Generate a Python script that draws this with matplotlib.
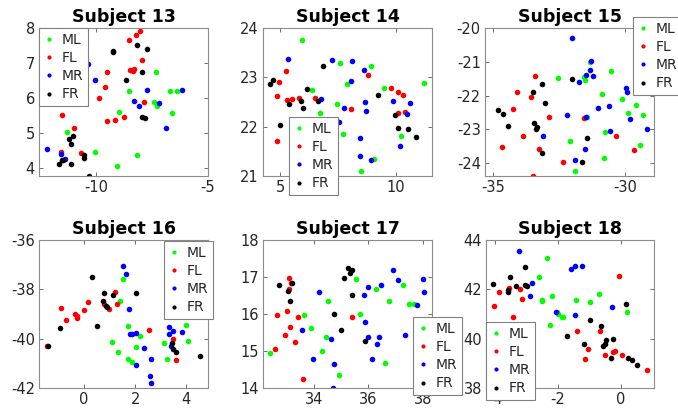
import matplotlib
matplotlib.use('Agg')
import matplotlib.pyplot as plt

plt.rcParams['axes.unicode_minus'] = False

# point clouds per subject and class, (x, y) pairs
s13_ml = [(-7.32, 6.75), (-8.51, 6.20), (-6.70, 6.20), (-6.40, 6.20), (-7.40, 5.88), (-7.29, 5.76),
          (-6.62, 5.56), (-8.96, 5.59), (-11.28, 5.04), (-10.03, 4.45), (-8.15, 4.37), (-9.06, 4.05)]
s13_fl = [(-8.04, 7.90), (-8.21, 7.81), (-8.51, 7.65), (-7.96, 7.09), (-8.48, 6.80), (-8.36, 6.77),
          (-8.30, 6.84), (-9.52, 6.73), (-9.58, 6.32), (-9.88, 6.00), (-7.84, 5.88), (-11.52, 5.52),
          (-8.74, 5.45), (-9.15, 5.38), (-9.52, 5.33), (-10.98, 5.13), (-11.55, 4.46), (-10.67, 4.43)]
s13_mr = [(-10.34, 6.96), (-10.04, 6.50), (-7.72, 6.23), (-6.16, 6.23), (-8.30, 5.91), (-8.08, 5.78),
          (-7.17, 5.86), (-6.89, 5.15), (-12.17, 4.53), (-11.55, 4.40), (-11.40, 4.27)]
s13_fr = [(-8.17, 7.52), (-7.72, 7.41), (-9.23, 7.33), (-9.23, 7.30), (-7.95, 6.75), (-8.66, 6.52),
          (-7.93, 5.46), (-7.83, 5.43), (-11.04, 4.92), (-11.21, 4.82), (-11.12, 4.69), (-10.52, 4.37),
          (-10.54, 4.29), (-11.52, 4.24), (-11.46, 4.22), (-11.65, 4.12), (-11.13, 4.12), (-10.33, 3.76)]

s14_ml = [(5.94, 23.75), (7.56, 23.30), (8.93, 23.23), (7.88, 22.87), (6.37, 22.75), (9.48, 22.78),
          (11.21, 22.88), (7.46, 22.46), (6.71, 22.27), (7.69, 21.85), (10.23, 21.82), (9.06, 21.35),
          (8.50, 21.10)]
s14_fl = [(5.23, 23.12), (4.93, 22.90), (8.78, 23.05), (4.84, 22.62), (5.30, 22.54), (5.50, 22.56),
          (5.79, 22.59), (6.48, 22.58), (8.03, 22.35), (9.80, 22.78), (10.09, 22.71), (10.30, 22.65),
          (10.06, 22.28), (10.37, 22.29), (4.84, 21.70)]
s14_mr = [(5.32, 23.37), (7.23, 23.36), (8.10, 23.34), (8.62, 23.14), (8.07, 22.92), (6.77, 22.56),
          (8.67, 22.51), (9.86, 22.52), (10.59, 22.48), (7.77, 22.38), (8.69, 22.31), (10.48, 22.26),
          (7.54, 22.09), (8.44, 21.77), (10.16, 21.60), (8.46, 21.41), (8.90, 21.32)]
s14_fr = [(4.68, 22.95), (4.55, 22.86), (6.83, 23.22), (6.15, 22.76), (5.91, 22.53), (6.63, 22.53),
          (5.37, 22.46), (5.98, 22.38), (9.21, 22.64), (9.96, 22.23), (4.97, 22.04), (10.06, 21.97),
          (10.53, 21.96), (10.85, 21.79)]

s15_ml = [(-32.56, -21.49), (-31.56, -21.45), (-31.52, -21.53), (-31.33, -21.01), (-30.53, -21.27),
          (-30.86, -21.96), (-30.11, -22.09), (-29.87, -22.53), (-29.57, -22.28), (-29.30, -22.56),
          (-31.43, -22.62), (-30.77, -23.09), (-32.11, -23.34), (-29.42, -23.47), (-30.80, -23.84),
          (-31.89, -24.24)]
s15_fl = [(-33.41, -21.42), (-34.09, -21.90), (-33.57, -22.03), (-34.27, -22.39), (-32.90, -22.62),
          (-31.56, -22.67), (-33.86, -23.21), (-30.33, -23.21), (-34.66, -23.51), (-33.27, -23.58),
          (-29.65, -23.61), (-32.34, -23.96), (-33.51, -24.38)]
s15_mr = [(-32.01, -20.30), (-31.28, -20.99), (-31.34, -21.25), (-31.23, -21.41), (-31.49, -21.39),
          (-31.75, -21.61), (-29.97, -21.78), (-29.94, -21.90), (-31.04, -22.36), (-30.61, -22.32),
          (-29.82, -22.69), (-32.20, -22.58), (-31.49, -22.62), (-29.18, -22.98), (-33.10, -23.20),
          (-30.58, -23.06), (-31.51, -23.58), (-31.89, -23.91)]
s15_fr = [(-34.84, -22.43), (-34.62, -22.54), (-34.46, -22.91), (-33.51, -21.88), (-33.14, -21.65),
          (-33.05, -22.22), (-32.00, -21.50), (-33.47, -22.82), (-33.38, -22.99), (-33.33, -22.94),
          (-33.14, -23.71), (-31.44, -23.27), (-31.63, -23.98)]

s16_ml = [(1.51, -37.60), (1.39, -38.47), (1.71, -39.50), (1.09, -40.14), (2.19, -39.89), (2.05, -40.35),
          (1.32, -40.53), (1.71, -40.82), (1.89, -40.95), (3.11, -40.16), (3.26, -40.82), (3.99, -39.46),
          (4.08, -40.08)]
s16_fl = [(-0.91, -38.74), (-0.72, -39.25), (-0.36, -38.99), (-0.27, -39.09), (-0.26, -39.17),
          (-0.01, -38.83), (0.16, -38.53), (0.77, -38.59), (0.96, -38.78), (1.20, -38.12), (1.29, -38.60),
          (2.53, -39.65), (3.48, -40.02), (3.61, -40.88), (-1.43, -40.31)]
s16_mr = [(1.52, -37.06), (1.64, -37.36), (1.75, -38.78), (1.80, -39.81), (1.89, -39.83), (2.02, -39.77),
          (2.35, -40.38), (2.02, -41.05), (2.62, -40.81), (2.58, -41.53), (2.64, -41.80), (3.34, -39.53),
          (3.48, -39.67), (3.32, -39.83), (3.82, -39.71), (3.40, -40.31)]
s16_fr = [(0.31, -37.52), (0.77, -38.13), (1.12, -38.22), (2.05, -38.13), (0.74, -38.47), (0.85, -38.67),
          (0.91, -38.70), (-0.93, -39.57), (0.51, -39.48), (-1.42, -40.29), (3.45, -40.19), (3.50, -40.41),
          (3.58, -40.54), (4.55, -40.69)]

s17_ml = [(32.40, 14.95), (33.66, 15.96), (33.91, 15.63), (34.51, 16.35), (34.44, 15.37), (34.31, 15.01),
          (35.55, 16.94), (35.69, 16.00), (36.30, 16.67), (36.75, 16.36), (37.27, 16.79), (37.51, 16.27),
          (37.68, 16.28), (36.61, 14.67), (34.94, 14.34)]
s17_fl = [(33.11, 16.98), (33.15, 16.83), (33.02, 16.09), (32.65, 15.96), (33.12, 15.64), (33.43, 15.91),
          (32.94, 15.44), (33.31, 15.25), (32.57, 15.05), (33.61, 14.23), (35.42, 15.91), (33.08, 16.67)]
s17_mr = [(34.20, 16.59), (33.56, 15.56), (34.64, 15.33), (33.98, 14.78), (34.73, 14.65), (34.69, 14.01),
          (35.99, 16.74), (35.86, 16.51), (36.47, 16.78), (36.90, 17.18), (37.09, 16.91), (35.90, 15.78),
          (35.99, 15.39), (36.39, 15.37), (36.33, 15.20), (36.14, 14.78), (37.35, 15.43), (38.00, 16.95),
          (38.04, 16.59), (37.79, 16.25)]
s17_fr = [(32.72, 16.78), (33.22, 16.84), (33.05, 16.62), (33.12, 16.34), (34.73, 16.00), (34.99, 15.56),
          (35.10, 16.97), (35.25, 17.24), (35.33, 17.11), (35.41, 17.19), (35.41, 16.52), (35.88, 15.28)]

s18_ml = [(-2.34, 43.27), (-2.59, 42.50), (-2.51, 41.57), (-2.52, 41.51), (-2.20, 41.72), (-2.03, 41.07),
          (-2.00, 41.02), (-1.88, 40.86), (-1.84, 40.86), (-2.26, 40.55), (-1.41, 41.55), (-0.98, 41.49),
          (-0.68, 41.80), (0.20, 41.09)]
s18_fl = [(-4.04, 41.34), (-3.88, 41.88), (-3.55, 42.04), (-3.22, 42.00), (-3.16, 41.60), (-3.44, 40.86),
          (-1.39, 40.33), (-1.03, 39.59), (-1.14, 39.17), (-0.66, 40.31), (-0.50, 39.33), (-0.24, 39.47),
          (-0.18, 39.51), (0.06, 39.33), (-0.04, 42.54), (0.85, 38.74)]
s18_mr = [(-3.23, 43.56), (-2.83, 42.26), (-2.89, 41.72), (-1.59, 42.83), (-1.45, 42.93), (-1.23, 42.96),
          (-2.05, 41.10), (-1.44, 40.94), (-0.28, 41.28)]
s18_fr = [(-4.09, 42.21), (-3.53, 42.50), (-3.61, 41.98), (-3.60, 41.91), (-3.35, 42.13), (-3.04, 42.91),
          (-3.06, 42.19), (-2.99, 42.15), (-1.71, 40.10), (-0.96, 40.75), (-0.64, 40.53), (-1.18, 39.79),
          (-0.46, 39.96), (-0.51, 39.77), (-0.56, 39.70), (-0.24, 39.97), (-0.31, 39.23), (0.17, 41.40),
          (0.24, 39.23), (0.36, 39.12), (0.52, 38.94)]

labels = ['ML', 'FL', 'MR', 'FR']
colors = ['#00ff00', '#ff0000', '#0000ff', '#000000']

subjects = [13, 14, 15, 16, 17, 18]
groups = [
    [s13_ml, s13_fl, s13_mr, s13_fr],
    [s14_ml, s14_fl, s14_mr, s14_fr],
    [s15_ml, s15_fl, s15_mr, s15_fr],
    [s16_ml, s16_fl, s16_mr, s16_fr],
    [s17_ml, s17_fl, s17_mr, s17_fr],
    [s18_ml, s18_fl, s18_mr, s18_fr],
]
xlims = [(-12.54, -5), (4.25, 11.55), (-35.32, -28.9), (-1.76, 4.85), (32.14, 38.34), (-4.3, 1.07)]
ylims = [(3.77, 8), (21, 24), (-24.38, -20), (-42, -36), (14, 18), (38, 44)]
xticks = [[-10, -5], [5, 10], [-35, -30], [0, 2, 4], [34, 36, 38], [-4, -2, 0]]
yticks = [[4, 5, 6, 7, 8], [21, 22, 23, 24], [-24, -23, -22, -21, -20],
          [-42, -40, -38, -36], [14, 15, 16, 17, 18], [38, 40, 42, 44]]

W, H = 678, 417
# axes boxes in pixels: left, top, right, bottom
boxes = [(39, 28, 208, 176), (263, 28, 432, 176), (485, 28, 654, 176),
         (39, 240, 208, 388), (263, 240, 432, 388), (486, 240, 654, 388)]
# legend upper-left corners in pixels
leg_pos = [(39, 28), (289, 117), (633, 17), (164, 241), (413, 317), (486, 322)]

fig = plt.figure(figsize=(W / 100, H / 100), dpi=100)

for i in range(6):
    l, t, r, b = boxes[i]
    ax = fig.add_axes([l / W, 1 - b / H, (r - l) / W, (b - t) / H])
    for pts, lab, c in zip(groups[i], labels, colors):
        xs = [p[0] for p in pts]
        ys = [p[1] for p in pts]
        ax.plot(xs, ys, 'o', color=c, markersize=4, markeredgewidth=0, label=lab)
    ax.set_xlim(xlims[i])
    ax.set_ylim(ylims[i])
    ax.set_xticks(xticks[i])
    ax.set_yticks(yticks[i])
    ax.tick_params(direction='in', length=3, width=0.6, color='#555555', labelsize=10.5,
                   labelcolor='#262626', top=True, right=True, pad=3)
    for sp in ax.spines.values():
        sp.set_color('#8c8c8c')
        sp.set_linewidth(0.8)
    ax.set_title(f'Subject {subjects[i]}', fontsize=12.5, fontweight='bold', pad=4)
    lx, ly = leg_pos[i]
    leg = ax.legend(loc='upper left', bbox_to_anchor=(lx / W, 1 - ly / H),
                    bbox_transform=fig.transFigure, fontsize=10, frameon=True, fancybox=False,
                    borderpad=0.35, labelspacing=0.3, handlelength=0.8, handletextpad=0.5,
                    borderaxespad=0, markerscale=0.75)
    leg.get_frame().set_edgecolor('#808080')
    leg.get_frame().set_linewidth(0.8)
    leg.get_frame().set_alpha(1)
    for txt in leg.get_texts():
        txt.set_color('#262626')

fig.savefig('out.png', dpi=100)
